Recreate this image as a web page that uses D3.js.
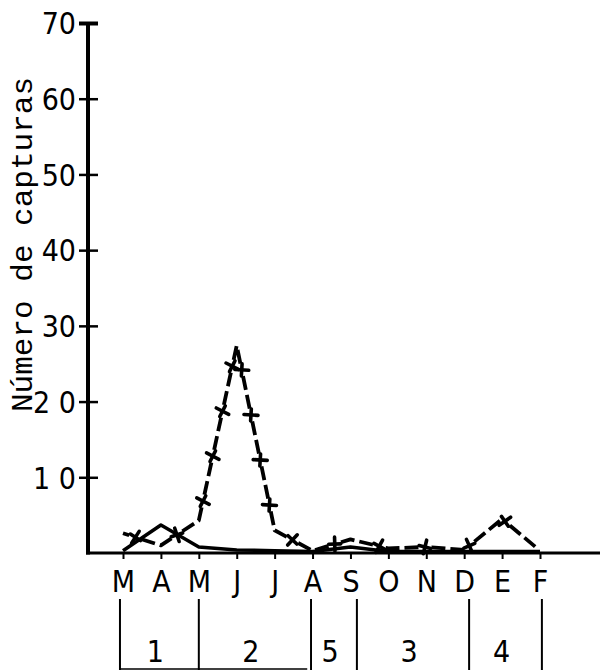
<!DOCTYPE html>
<html>
<head>
<meta charset="utf-8">
<script src="https://cdn.jsdelivr.net/npm/d3@7"></script>
<style>
  html, body { margin: 0; padding: 0; background: #fff; }
  svg { display: block; }
</style>
</head>
<body>
<svg id="chart" width="600" height="672"></svg>
<script>
// Months of the sampling year (March to February)
const months = ["M", "A", "M", "J", "J", "A", "S", "O", "N", "D", "E", "F"];

// Monthly captures, line drawn with crosses
const capturasCruces = [2.6, 1.0, 4.3, 27.4, 3.0, 0.3, 1.8, 0.6, 0.8, 0.4, 4.5, 0.3];
// Monthly captures, continuous line
const capturasContinua = [0.3, 3.7, 0.8, 0.4, 0.3, 0.2, 0.8, 0.2, 0.2, 0.2, 0.2, 0.2];

// Vertical axis ticks and their printed labels
const yTicks = [10, 20, 30, 40, 50, 60, 70];
const yTickLabels = ["1 0", "2 0", "30", "40", "50", "60", "70"];

// Period groups below the month axis (limits in month-index units)
const grupos = ["1", "2", "5", "3", "4"];
const limitesGrupos = [-0.08, 2.0, 4.96, 6.17, 9.13, 11.05];
const baseGrupos = [-0.08, 4.86];

const svg = d3.select("#chart");
const FONT = "'DejaVu Sans Condensed', 'DejaVu Sans', sans-serif";
const INK = "#000";

const x = d3.scaleLinear().domain([0, months.length - 1]).range([123, 540]);
const y = d3.scaleLinear().domain([0, 70]).range([553, 23]);
const axisX = 88;

// ---- vertical axis ----
const gy = svg.append("g")
  .attr("transform", `translate(${axisX},0)`)
  .call(d3.axisLeft(y).tickValues(yTicks)
    .tickFormat((d, i) => yTickLabels[i]).tickSize(9).tickPadding(3));
gy.select(".domain").remove();
gy.selectAll(".tick line")
  .attr("x1", 10).attr("x2", -9)
  .attr("stroke", INK)
  .attr("stroke-width", d => d === 70 ? 4 : 2.5);
gy.selectAll(".tick text")
  .attr("x", -12)
  .attr("dy", "0.36em")
  .attr("fill", INK)
  .style("font-family", FONT)
  .style("font-size", "30px");

svg.append("line")
  .attr("x1", axisX).attr("x2", axisX)
  .attr("y1", y(70)).attr("y2", y(0) + 1.5)
  .attr("stroke", INK).attr("stroke-width", 4);

// ---- horizontal axis ----
svg.append("line")
  .attr("x1", axisX - 2).attr("x2", 600)
  .attr("y1", y(0)).attr("y2", y(0))
  .attr("stroke", INK).attr("stroke-width", 3);

const gx = svg.append("g")
  .attr("transform", `translate(0,${y(0)})`)
  .call(d3.axisBottom(x).tickValues(d3.range(months.length))
    .tickFormat(i => months[i]).tickSize(6).tickPadding(12));
gx.select(".domain").remove();
gx.selectAll(".tick line").attr("stroke", INK).attr("stroke-width", 2);
gx.selectAll(".tick text")
  .attr("fill", INK)
  .style("font-family", FONT)
  .style("font-size", "30px");

// ---- axis title ----
svg.append("text")
  .attr("transform", `translate(32,${(77 + 412) / 2}) rotate(-90)`)
  .attr("text-anchor", "middle")
  .attr("textLength", 335)
  .attr("lengthAdjust", "spacingAndGlyphs")
  .style("font-family", "'Liberation Mono', 'DejaVu Sans Mono', monospace")
  .style("font-size", "30px")
  .attr("fill", INK)
  .text("Número de capturas");

// ---- series ----
const line = d3.line().x((d, i) => x(i)).y(d => y(d));

svg.append("path")
  .datum(capturasContinua)
  .attr("d", line)
  .attr("fill", "none")
  .attr("stroke", INK)
  .attr("stroke-width", 3.5)
  .attr("stroke-linejoin", "round");

// dash period and where the first cross sits along the path
const PERIOD = 46, FIRST = 13;
const crucesPath = svg.append("path")
  .datum(capturasCruces)
  .attr("d", line)
  .attr("fill", "none")
  .attr("stroke", INK)
  .attr("stroke-width", 3.8)
  .attr("stroke-linejoin", "round")
  .attr("stroke-dasharray", "14 5 14 13")
  .attr("stroke-dashoffset", 39.5 - FIRST);

// crosses at regular intervals along the dashed series
const node = crucesPath.node();
const total = node.getTotalLength();
const marks = [];
for (let L = FIRST; L < total - 6; L += PERIOD) {
  const p = node.getPointAtLength(L);
  const a = node.getPointAtLength(Math.max(0, L - 2));
  const b = node.getPointAtLength(Math.min(total, L + 2));
  const ang = Math.atan2(b.y - a.y, b.x - a.x) * 180 / Math.PI;
  marks.push({ x: p.x, y: p.y, ang });
}
const cross = svg.append("g").selectAll("g").data(marks).join("g")
  .attr("transform", d => `translate(${d.x},${d.y}) rotate(${d.ang + 15})`);
cross.append("line")
  .attr("x1", -6).attr("x2", 6).attr("y1", 0).attr("y2", 0)
  .attr("stroke", INK).attr("stroke-width", 3.6).attr("stroke-linecap", "round");
cross.append("line")
  .attr("x1", 0).attr("x2", 0).attr("y1", -7).attr("y2", 7)
  .attr("stroke", INK).attr("stroke-width", 3.6).attr("stroke-linecap", "round");

// ---- period brackets ----
const gb = svg.append("g");
gb.selectAll("line.lim").data(limitesGrupos).join("line")
  .attr("class", "lim")
  .attr("x1", d => x(d)).attr("x2", d => x(d))
  .attr("y1", 599).attr("y2", 670)
  .attr("stroke", INK).attr("stroke-width", 2);
gb.append("line")
  .attr("x1", x(baseGrupos[0])).attr("x2", x(baseGrupos[1]))
  .attr("y1", 669).attr("y2", 669)
  .attr("stroke", INK).attr("stroke-width", 1.6);
gb.selectAll("text").data(grupos).join("text")
  .attr("x", (d, i) => (x(limitesGrupos[i]) + x(limitesGrupos[i + 1])) / 2 - 4)
  .attr("y", 662)
  .attr("text-anchor", "middle")
  .attr("fill", INK)
  .style("font-family", FONT)
  .style("font-size", "30px")
  .text(d => d);
</script>
</body>
</html>
